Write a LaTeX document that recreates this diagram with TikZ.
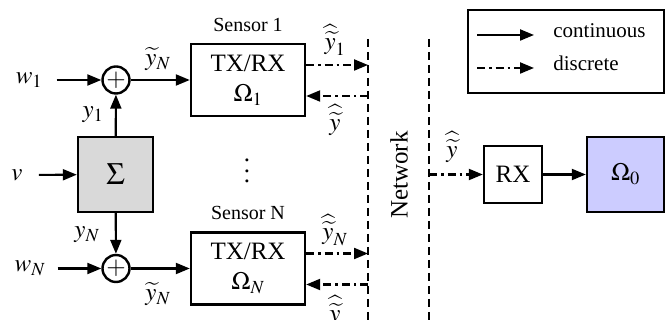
\documentclass[tikz,border=0pt]{standalone}
\usepackage{mathptmx}
\usepackage[no-math]{fontspec}
\setmainfont{Liberation Serif}
\usetikzlibrary{arrows.meta, positioning}
\definecolor{plantgray}{RGB}{217,217,217}
\definecolor{ctrlblue}{RGB}{204,204,255}
\newcommand{\yhat}{\widehat{\widetilde{y}}}

\begin{document}
\begin{tikzpicture}[x=1pt, y=1pt, line width=2.1pt,
    >={Triangle[length=14pt, width=11pt]},
    every node/.style={font=\fontsize{25}{30}\selectfont},
    blk/.style={draw, line width=2.4pt, align=center, inner sep=2pt,
                font=\fontsize{25}{30}\selectfont},
    adder/.style={draw, circle, line width=2.4pt, minimum size=27pt, inner sep=0pt,
                  font=\fontsize{25}{30}\selectfont},
    disc/.style={dash pattern=on 8pt off 4pt on 2.5pt off 4pt},
    netline/.style={line width=2.2pt, dash pattern=on 8pt off 5pt},
    caption/.style={font=\fontsize{20}{24}\selectfont}]
  \useasboundingbox (0,0) rectangle (669,320);

  % plant, adders and sensors
  \node[blk, fill=plantgray, minimum size=75pt, font=\fontsize{31}{36}\selectfont] (sigma) at (115.5,145.5) {$\Sigma$};
  \node[adder] (add1) at (116,240) {$+$};
  \node[adder] (addN) at (116,51.5) {$+$};
  \node[blk, minimum width=114pt, minimum height=72pt] (sens1) at (248,240) {TX/RX\\$\Omega_1$};
  \node[blk, minimum width=114pt, minimum height=72pt] (sensN) at (248,51.5) {TX/RX\\$\Omega_N$};
  \node[caption, above=7pt of sens1] (cap1) {Sensor 1};
  \node[caption, above=7pt of sensN] (capN) {Sensor N};
  \node[align=center, inner sep=0pt, font=\fontsize{25}{10.5}\selectfont] (dots) at (247,149) {.\\.\\.};

  \node (w1) at (29,240) {$w_1$};
  \node (wN) at (30,51.5) {$w_N$};
  \node (v) at (17,145) {$v$};
  \node (y1) at (93,205) {$y_1$};
  \node (yN) at (87,85) {$y_N$};
  \node (yt1) at (158,261) {$\widetilde{y}_N$};
  \node (ytN) at (158,26) {$\widetilde{y}_N$};

  \draw[->, shorten <=10pt] (w1) -- (add1);
  \draw[->, shorten <=8pt] (wN) -- (addN);
  \draw[->, shorten <=12pt] (v) -- (sigma);
  \draw[->] (sigma) -- (add1);
  \draw[->] (sigma) -- (addN);
  \draw[->] (add1) -- (sens1);
  \draw[->] (addN) -- (sensN);

  % network
  \coordinate (n1top) at (368,281);
  \coordinate (n1bot) at (368,0);
  \coordinate (n2top) at (429,281);
  \coordinate (n2bot) at (429,0);
  \draw[netline] (n1top) -- (n1bot);
  \draw[netline] (n2top) -- (n2bot);
  \node[rotate=90] (net) at (399,145) {Network};

  \coordinate (o1) at ([yshift=15pt]sens1.east);
  \coordinate (i1) at ([yshift=-16pt]sens1.east);
  \coordinate (oN) at ([yshift=15pt]sensN.east);
  \coordinate (iN) at ([yshift=-16pt]sensN.east);
  \draw[disc, ->] (o1) -- (o1 -| n1top);
  \draw[disc, ->] (i1 -| n1top) -- (i1);
  \draw[disc, ->] (oN) -- (oN -| n1top);
  \draw[disc, ->] (iN -| n1top) -- (iN);
  \node (yh1) at (335,280) {$\yhat_1$};
  \node (yhb1) at (335,200) {$\yhat$};
  \node (yhN) at (335,90) {$\yhat_N$};
  \node (yhbN) at (335,9) {$\yhat$};

  % receiver and controller
  \node[blk, minimum width=58pt, minimum height=57pt] (rx) at (513,145.5) {RX};
  \node[blk, fill=ctrlblue, minimum width=77pt, minimum height=75pt] (ctrl) at (625.5,145.5) {$\Omega_0$};
  \draw[disc, ->] (rx.west -| n2top) -- (rx);
  \draw[->] (rx) -- (ctrl);
  \node (yhrx) at (452,173) {$\yhat$};

  % legend
  \node[draw, line width=2pt, minimum width=196pt, minimum height=83pt] (legend) at (566,268.5) {};
  \node[anchor=mid west, font=\fontsize{21}{25}\selectfont] (lcont) at (549,285) {continuous};
  \node[anchor=mid west, font=\fontsize{21}{25}\selectfont] (ldisc) at (549,252) {discrete};
  \draw[->, shorten >=15pt] (lcont.mid west -| legend.west) ++(10pt,0) coordinate (lc) -- (lcont.mid west);
  \draw[disc, ->, shorten >=15pt] (ldisc.mid west -| lc) -- (ldisc.mid west);
\end{tikzpicture}
\end{document}
